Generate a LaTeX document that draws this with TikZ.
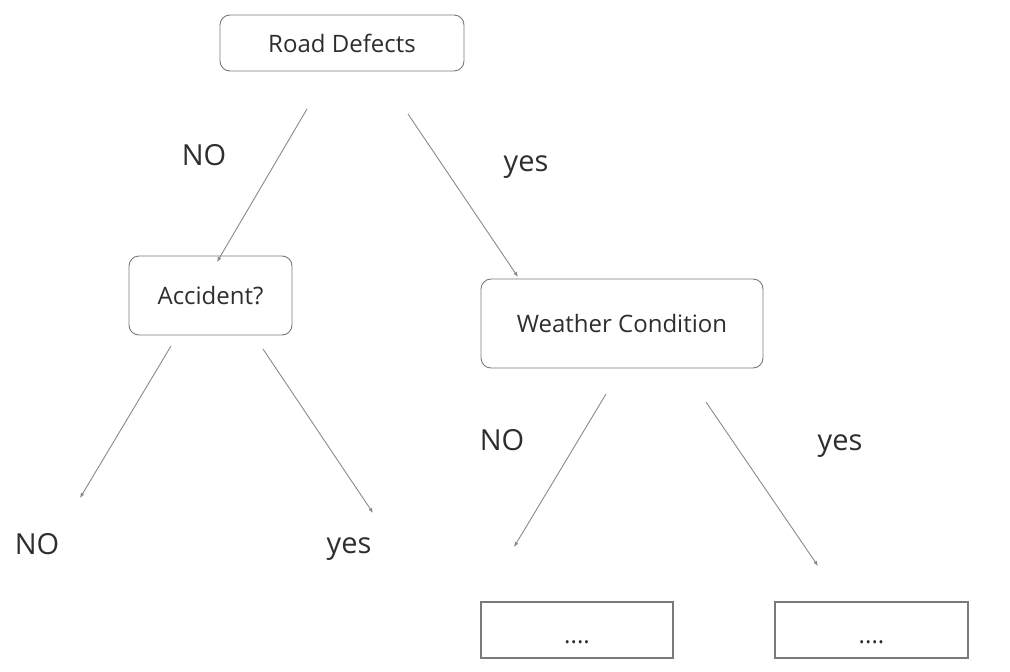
\documentclass[tikz,border=0pt]{standalone}
\usepackage{fontspec}
\setmainfont{Open Sans}
\usetikzlibrary{arrows.meta}
\definecolor{boxline}{HTML}{7A7A7A}
\definecolor{arrowline}{HTML}{8A8A8A}
\definecolor{txt}{HTML}{2E2E2E}
\tikzset{
  rbox/.style={draw=boxline, line width=0.9pt, rounded corners=10pt, text=txt, font=\fontsize{24}{28}\selectfont, inner sep=0pt},
  sbox/.style={draw=boxline, line width=1.1pt, text=txt, font=\fontsize{24}{28}\selectfont, inner sep=0pt, text height=0pt, text depth=0pt},
  lbl/.style={text=txt, font=\fontsize{29}{33}\selectfont, inner sep=0pt},
  conn/.style={draw=arrowline, line width=0.9pt, -{Latex[length=5pt,width=4pt]}}
}
\begin{document}
\begin{tikzpicture}[x=1pt,y=-1pt]
\useasboundingbox (0,0) rectangle (1010,672);
\fill[white] (0,0) rectangle (1010,672);
\node[rbox, minimum width=244pt, minimum height=56pt] (road) at (342,43) {Road Defects};
\node[rbox, minimum width=163pt, minimum height=79pt] (acc) at (210.5,295.5) {Accident?};
\node[rbox, minimum width=282pt, minimum height=89pt] (weather) at (622,323.5) {Weather Condition};
\node[sbox, minimum width=192pt, minimum height=56pt] (b1) at (577,630) {\raisebox{-13pt}{....}};
\node[sbox, minimum width=193pt, minimum height=56pt] (b2) at (871.5,630) {\raisebox{-13pt}{....}};
\node[lbl] (l1) at (204,155) {NO};
\node[lbl] (l2) at (526,167) {yes};
\node[lbl] (l3) at (37,544) {NO};
\node[lbl] (l4) at (349,549) {yes};
\node[lbl] (l5) at (502,440) {NO};
\node[lbl] (l6) at (840,446) {yes};
\coordinate (a1s) at (307,109); \coordinate (a1e) at (217,262);
\coordinate (a2s) at (408,114); \coordinate (a2e) at (518,277);
\coordinate (a3s) at (171,346); \coordinate (a3e) at (80,498);
\coordinate (a4s) at (263,349); \coordinate (a4e) at (373,513);
\coordinate (a5s) at (606,394); \coordinate (a5e) at (514,547);
\coordinate (a6s) at (706,402); \coordinate (a6e) at (818,566);
\draw[conn] (a1s) -- (a1e);
\draw[conn] (a2s) -- (a2e);
\draw[conn] (a3s) -- (a3e);
\draw[conn] (a4s) -- (a4e);
\draw[conn] (a5s) -- (a5e);
\draw[conn] (a6s) -- (a6e);
\end{tikzpicture}
\end{document}
